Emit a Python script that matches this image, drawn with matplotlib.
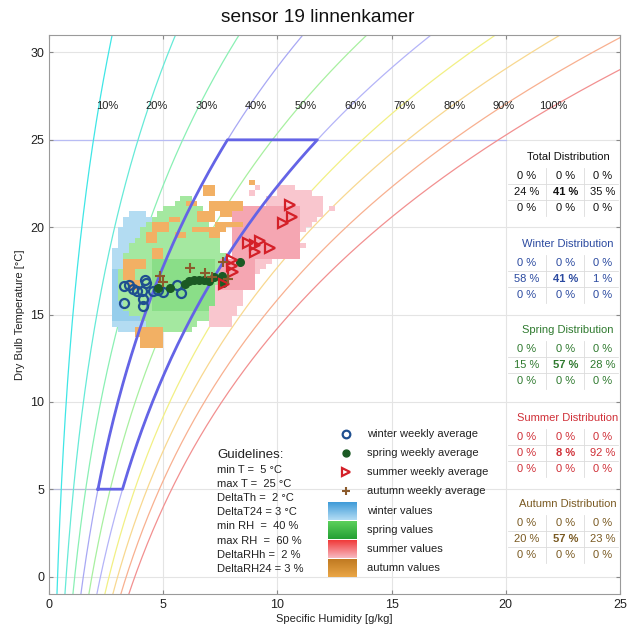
import numpy as np
import matplotlib
matplotlib.use('Agg')
import matplotlib.pyplot as plt
from matplotlib.colors import ListedColormap, LinearSegmentedColormap

plt.rcParams['font.family'] = ['Liberation Sans', 'DejaVu Sans']

# ---------------- data ----------------
title = "sensor 19 linnenkamer"
rh_levels = [10, 20, 30, 40, 50, 60, 70, 80, 90, 100]
rh_colors = ['#3fe6e6', '#66ead8', '#8af0b4', '#a8a8f4', '#a8f0a0',
             '#b4b4f8', '#f2f084', '#f8d890', '#f8b090', '#f29090']
rh_label_T = 26.93

# guideline values
min_T, max_T = 5, 25
min_RH, max_RH = 40, 60
guide_lines = ["min T =  5 \u00b0C", "max T =  25 \u00b0C", "DeltaTh =  2 \u00b0C",
               "DeltaT24 = 3 \u00b0C", "min RH  =  40 %", "max RH  =  60 %",
               "DeltaRHh =  2 %", "DeltaRH24 = 3 %"]

# weekly averages (specific humidity g/kg, temperature C)
winter_q = [3.28, 3.50, 3.68, 3.85, 4.07, 4.20, 4.25, 4.12, 4.12, 3.28, 4.55, 4.77, 4.99, 5.60, 5.78]
winter_T = [16.63, 16.69, 16.46, 16.34, 16.34, 16.97, 16.80, 15.88, 15.48, 15.66, 16.34, 16.40, 16.28, 16.69, 16.23]
spring_q = [4.77, 5.30, 5.95, 6.13, 6.35, 6.57, 6.79, 7.01, 7.22, 7.57, 7.62, 8.36]
spring_T = [16.51, 16.51, 16.74, 16.91, 16.97, 16.97, 16.97, 16.91, 17.14, 17.20, 16.80, 18.00]
summer_q = [8.01, 8.01, 8.06, 7.66, 8.71, 9.02, 9.24, 9.02, 9.68, 10.25, 10.64, 10.55]
summer_T = [18.12, 17.77, 17.43, 16.74, 19.08, 18.97, 19.20, 18.57, 18.80, 20.23, 20.58, 21.27]
autumn_q = [4.86, 4.99, 6.17, 6.83, 7.14, 7.62, 7.84]
autumn_T = [17.20, 16.86, 17.66, 17.37, 17.14, 18.00, 17.03]

# occupied histogram rows: bottom temperature of row, lowest and highest humidity
winter_rows_T = [20.7, 20.4, 20.1, 19.8, 19.5, 19.2, 18.9, 18.6, 18.3, 18.0, 17.7, 17.4,
                 17.1, 16.8, 16.5, 16.2, 15.9, 15.6, 15.3, 15.0, 14.7, 14.4, 14.1]
winter_rows_lo = [3.4, 3.3, 3.2, 3.1, 3.0, 2.95, 2.9, 2.85, 2.8, 2.75, 2.7, 2.7,
                  2.7, 2.7, 2.7, 2.7, 2.7, 2.7, 2.7, 2.7, 2.7, 2.8, 3.0]
winter_rows_hi = [4.3, 4.4, 4.5, 4.6, 4.7, 4.8, 4.9, 5.0, 5.0, 5.1, 5.1, 5.1,
                  5.1, 5.1, 5.1, 5.1, 5.1, 5.1, 5.1, 5.0, 4.9, 4.8, 4.4]
spring_rows_T = [21.6, 21.3, 21.0, 20.7, 20.4, 20.1, 19.8, 19.5, 19.2, 18.9, 18.6, 18.3, 18.0,
                 17.7, 17.4, 17.1, 16.8, 16.5, 16.2, 15.9, 15.6, 15.3, 15.0, 14.7, 14.4, 14.1]
spring_rows_lo = [5.7, 5.4, 5.0, 4.8, 4.5, 4.3, 4.1, 3.9, 3.7, 3.6, 3.45, 3.35, 3.25,
                  3.2, 3.1, 3.05, 3.0, 3.0, 3.05, 3.1, 3.15, 3.3, 3.6, 3.9, 4.2, 4.5]
spring_rows_hi = [6.3, 6.6, 6.8, 6.9, 7.0, 7.1, 7.2, 7.3, 7.4, 7.5, 7.6, 7.7, 7.8,
                  7.9, 8.0, 8.1, 8.2, 8.2, 8.1, 8.0, 7.9, 7.6, 7.3, 7.0, 6.6, 6.2]
summer_rows_T = [22.2, 21.9, 21.6, 21.3, 21.0, 20.7, 20.4, 20.1, 19.8, 19.5, 19.2, 18.9,
                 18.6, 18.3, 18.0, 17.7, 17.4, 17.1, 16.8, 16.5, 16.2, 15.9, 15.6,
                 15.3, 15.0, 14.7, 14.4]
summer_rows_lo = [10.0, 9.9, 9.6, 9.4, 9.2, 9.0, 8.8, 8.6, 8.5, 8.4, 8.2, 8.1,
                  8.0, 7.9, 7.8, 7.7, 7.6, 7.5, 7.4, 7.3, 7.25, 7.2, 7.2,
                  7.1, 7.1, 7.05, 7.05]
summer_rows_hi = [10.8, 11.5, 11.9, 12.1, 12.0, 11.9, 11.8, 11.5, 11.3, 11.0, 10.7, 10.5,
                  10.2, 10.0, 9.7, 9.5, 9.3, 9.1, 8.9, 8.8, 8.6, 8.5, 8.5,
                  8.2, 8.2, 7.9, 7.9]
# denser cores and scattered cells: (q0, q1, T0, T1)
winter_core = [(2.7, 3.9, 14.7, 17.5)]
spring_core = [(4.4, 7.3, 15.3, 18.1)]
summer_core = [(8.1, 10.9, 18.3, 21.3), (7.6, 9.0, 16.5, 18.3)]
summer_extra = [(8.95, 9.2, 22.2, 22.5), (8.7, 8.95, 21.9, 22.2), (11.0, 11.25, 18.9, 19.2),
                (12.2, 12.45, 21.0, 21.3)]
autumn_cells = [(6.85, 7.25, 21.9, 22.5), (6.10, 6.60, 21.3, 21.6), (7.00, 8.40, 21.0, 21.6),
                (7.60, 8.00, 20.7, 21.0), (6.40, 7.30, 20.4, 21.0), (7.30, 8.60, 20.1, 20.4),
                (6.20, 7.70, 19.8, 20.1), (6.90, 7.60, 19.5, 19.8),
                (4.45, 5.20, 19.8, 20.4), (4.20, 4.70, 19.2, 19.8), (4.40, 4.90, 18.3, 18.9),
                (3.25, 4.20, 17.7, 18.3), (3.20, 3.70, 17.1, 17.7), (3.40, 3.90, 16.5, 17.1),
                (3.70, 5.10, 13.8, 14.4), (3.90, 4.90, 13.2, 13.8),
                (5.50, 5.95, 19.5, 19.8), (5.30, 5.80, 20.4, 20.7), (8.7, 8.95, 22.5, 22.8)]

# distribution tables
dist_titles = ["Total Distribution", "Winter Distribution", "Spring Distribution",
               "Summer Distribution", "Autumn Distribution"]
dist_values = [
    [[0, 0, 0], [24, 41, 35], [0, 0, 0]],
    [[0, 0, 0], [58, 41, 1], [0, 0, 0]],
    [[0, 0, 0], [15, 57, 28], [0, 0, 0]],
    [[0, 0, 0], [0, 8, 92], [0, 0, 0]],
    [[0, 0, 0], [20, 57, 23], [0, 0, 0]],
]
dist_colors = ['#111111', '#2b4aa0', '#2f7a2f', '#d03038', '#7a5a22']

legend_labels = ["winter weekly average", "spring weekly average",
                 "summer weekly average", "autumn weekly average",
                 "winter values", "spring values", "summer values", "autumn values"]


# ---------------- helpers ----------------
def q_rh(T, rh):
    e = rh / 100.0 * 0.6112 * np.exp(17.67 * T / (T + 243.5))
    return 622.0 * e / (101.325 - 0.378 * e)


# ---------------- figure ----------------
fig = plt.figure(figsize=(6.29, 6.32), dpi=100)
ax = fig.add_axes([49 / 629, 38 / 632, 571 / 629, 559 / 632])
ax.set_xlim(0, 25)
ax.set_ylim(-1, 31)

# grid
for xv in [5, 10, 15, 20]:
    ax.axvline(xv, color='#e4e4e4', lw=0.8, zorder=0)
for yv in [0, 5, 10, 15, 20, 25, 30]:
    ax.axhline(yv, color='#e4e4e4', lw=0.8, zorder=0)
ax.plot([0, 20], [max_T, max_T], color='#b8bcf4', lw=0.9, zorder=0.5)
ax.plot([0, 2.1], [min_T, min_T], color='#b8bcd8', lw=0.9, zorder=0.5)

# RH curves
Tc = np.linspace(-1.2, 31.5, 300)
for rh, c in zip(rh_levels, rh_colors):
    ax.plot(q_rh(Tc, rh), Tc, color=c, lw=0.9, zorder=1)
for i, rh in enumerate(rh_levels):
    ax.text(2.55 + 2.17 * i, rh_label_T, f"{rh}%", ha='center', va='center',
            fontsize=8, color='#222222', zorder=6)

# histogram cells
q_edges = np.arange(0, 25.001, 0.25)
T_edges = np.arange(-1, 31.2, 0.3)
qc = 0.5 * (q_edges[:-1] + q_edges[1:])
tc = 0.5 * (T_edges[:-1] + T_edges[1:])
QQ, TT = np.meshgrid(qc, tc)


def fill_grid(grid, rects, lev):
    for q0, q1, t0, t1 in rects:
        m = (QQ >= q0) & (QQ <= q1) & (TT >= t0) & (TT <= t1)
        grid[m] = np.maximum(grid[m], lev)


def rows_to_rects(rows_T, lo, hi):
    return [(a, b, t, t + 0.3) for t, a, b in zip(rows_T, lo, hi)]


def draw_grid(grid, c1, c2, z):
    g = np.ma.masked_equal(grid, 0)
    ax.pcolormesh(q_edges, T_edges, g, cmap=ListedColormap([c1, c2]),
                  vmin=0.5, vmax=2.5, zorder=z, edgecolors='none')


g = np.zeros_like(QQ)
fill_grid(g, rows_to_rects(winter_rows_T, winter_rows_lo, winter_rows_hi), 1)
fill_grid(g, winter_core, 2)
draw_grid(g, '#b3dcf2', '#96ceec', 2)

g = np.zeros_like(QQ)
fill_grid(g, rows_to_rects(spring_rows_T, spring_rows_lo, spring_rows_hi), 1)
fill_grid(g, spring_core, 2)
draw_grid(g, '#a4e8a0', '#8ade88', 2.1)

g = np.zeros_like(QQ)
fill_grid(g, rows_to_rects(summer_rows_T, summer_rows_lo, summer_rows_hi), 1)
fill_grid(g, summer_extra, 1)
fill_grid(g, summer_core, 2)
draw_grid(g, '#f9c6ce', '#f5a6b2', 2.2)

g = np.zeros_like(QQ)
fill_grid(g, autumn_cells, 1)
draw_grid(g, '#f2b064', '#eea24e', 2.3)

# comfort polygon
Tp = np.linspace(min_T, max_T, 100)
poly_q = np.concatenate([q_rh(Tp, min_RH), q_rh(Tp[::-1], max_RH), [q_rh(min_T, min_RH)]])
poly_T = np.concatenate([Tp, Tp[::-1], [min_T]])
ax.plot(poly_q, poly_T, color='#6464e6', lw=2, zorder=4)

# weekly averages
ax.plot(winter_q, winter_T, 'o', ms=6.5, mfc='none', mec='#1f4f90', mew=1.6, zorder=5)
ax.plot(spring_q, spring_T, 'o', ms=5.5, mfc='#1b5a24', mec='#1b5a24', zorder=5)
ax.plot(summer_q, summer_T, '>', ms=7, mfc='none', mec='#d42028', mew=1.6, zorder=5)
ax.plot(autumn_q, autumn_T, '+', ms=7, color='#8b5a2b', mew=1.5, zorder=5)

# legend (manual)
tA = ax.transAxes


def fx(px):
    return (px - 49) / 571


def fy(py):
    return (594 - py) / 559


ax.plot([fx(346)], [fy(434)], 'o', ms=5.5, mfc='none', mec='#1f4f90', mew=1.6, transform=tA, zorder=7, clip_on=False)
ax.plot([fx(346)], [fy(453)], 'o', ms=5, mfc='#1b5a24', mec='#1b5a24', transform=tA, zorder=7, clip_on=False)
ax.plot([fx(346)], [fy(472)], '>', ms=6, mfc='none', mec='#d42028', mew=1.6, transform=tA, zorder=7, clip_on=False)
ax.plot([fx(346)], [fy(491)], '+', ms=6, color='#8b5a2b', mew=1.5, transform=tA, zorder=7, clip_on=False)
text_rows = [434, 453, 472, 491, 511, 530, 549, 568]
for lab, py in zip(legend_labels, text_rows):
    ax.text(fx(367), fy(py), lab, transform=tA, fontsize=8, va='center', ha='left',
            color='#222222', zorder=7)

patch_grads = [('#3f9bd8', '#b2dcf4'), ('#5cd05c', '#24a034'),
               ('#f03a3a', '#f8b8c0'), ('#c07a22', '#eaa646')]
patch_tops = [502, 521, 540, 559]
for (ctop, cbot), ptop in zip(patch_grads, patch_tops):
    cmap = LinearSegmentedColormap.from_list('g', [cbot, ctop])
    grad = np.linspace(1, 0, 50).reshape(-1, 1)
    ax.imshow(grad, cmap=cmap, extent=(fx(328), fx(357), fy(ptop + 18), fy(ptop)),
              transform=tA, aspect='auto', zorder=7, interpolation='bilinear')

# guidelines
ax.text(fx(217), fy(455), "Guidelines:", transform=tA, fontsize=9.5, va='center',
        ha='left', color='#222222', zorder=7)
for k, line in enumerate(guide_lines):
    ax.text(fx(217), fy(470 + 14.1 * k), line, transform=tA, fontsize=8, va='center',
            ha='left', color='#222222', zorder=7)

# distribution tables
title_rows = [157, 244, 330, 418, 504]
col_px = [527, 566, 603]
row_off = [19, 35, 51]
for ttl, vals, col, ty in zip(dist_titles, dist_values, dist_colors, title_rows):
    ax.text(fx(568), fy(ty), ttl, transform=tA, fontsize=8, ha='center', va='center',
            color=col, zorder=7)
    for r in range(3):
        for c in range(3):
            bold = (r == 1 and c == 1)
            ax.text(fx(col_px[c]), fy(ty + row_off[r]), f"{vals[r][c]} %", transform=tA,
                    fontsize=8, ha='center', va='center', color=col,
                    fontweight='bold' if bold else 'normal', zorder=7)
    for vx in [546, 584]:
        ax.plot([fx(vx), fx(vx)], [fy(ty + 11), fy(ty + 59)], color='#dcdcdc', lw=0.6,
                transform=tA, zorder=6)
    for hy in [ty + 27, ty + 43]:
        ax.plot([fx(508), fx(618)], [fy(hy), fy(hy)], color='#dcdcdc', lw=0.6,
                transform=tA, zorder=6)

ax.set_xlim(0, 25)
ax.set_ylim(-1, 31)
ax.set_xticks([0, 5, 10, 15, 20, 25])
ax.set_yticks([0, 5, 10, 15, 20, 25, 30])
ax.tick_params(direction='in', length=3, color='#888888', labelsize=9,
               labelcolor='#222222', top=True, right=True)
for s in ax.spines.values():
    s.set_color('#9a9a9a')
    s.set_linewidth(0.8)
ax.set_xlabel("Specific Humidity [g/kg]", fontsize=8, color='#222222', labelpad=2)
ax.set_ylabel("Dry Bulb Temperature [\u00b0C]", fontsize=8, color='#222222', labelpad=4)
fig.text(318 / 629, 1 - 18 / 632, title, fontsize=13.8, ha='center', va='center',
         color='#111111')

fig.savefig('out.png', dpi=100)
